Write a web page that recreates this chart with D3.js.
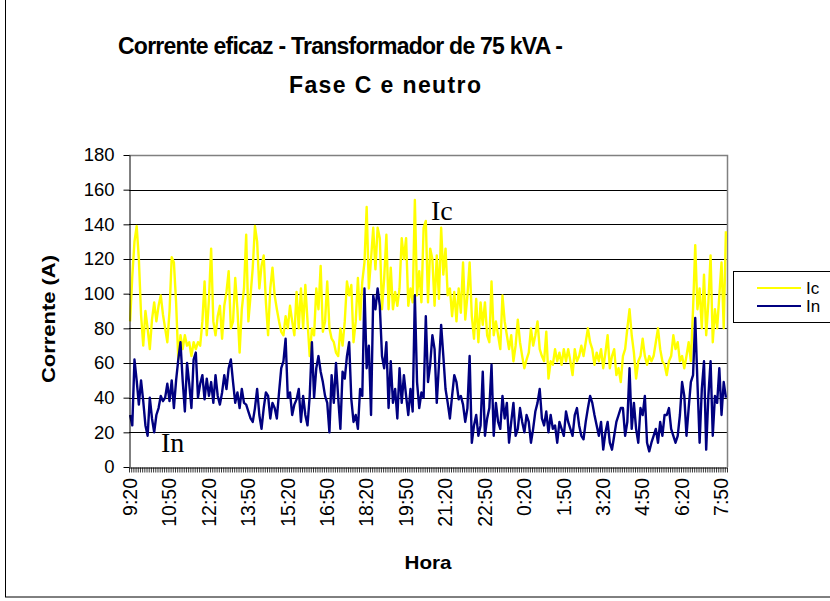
<!DOCTYPE html>
<html>
<head>
<meta charset="utf-8">
<script src="https://cdn.jsdelivr.net/npm/d3@7"></script>
<style>
  body { margin: 0; background: #fff; }
  svg { display: block; font-family: "Liberation Sans", Arial, sans-serif; }
</style>
</head>
<body>
<svg id="chart" width="830" height="601"></svg>
<script>
// Phase C current (A), one reading every 5 minutes from 9:20
const icValues = [
  84, 110, 130, 139, 120, 88, 70, 90, 80, 68, 85, 95, 84, 93, 99, 88, 80, 72, 90, 121,
  118, 95, 62, 76, 68, 76, 70, 72, 64, 72,
  68, 72, 70, 84, 107, 76, 97, 126, 84, 76, 87, 93, 74, 93, 101, 113, 80, 84, 109, 91,
  66, 91, 103, 134, 84, 99, 115, 139, 130, 103, 116, 122, 95, 76, 103, 115,
  99, 91, 84, 78, 76, 87, 80, 93, 84, 76, 101, 80, 103, 80, 105, 84, 64, 80, 76, 103,
  91, 116, 78, 84, 107, 80, 74, 72, 66, 64, 80, 70, 84, 107, 99,
  105, 72, 84, 109, 85, 107, 118, 150, 103, 120, 138, 114, 138, 132, 91, 109, 134, 91, 115, 91,
  101, 93, 103, 132, 120, 132, 93, 103, 95, 154, 99, 113, 95, 138,
  142, 95, 126, 120, 93, 122, 97, 138, 111, 126, 99, 103, 87, 101, 84, 103, 89, 118, 85, 99,
  118, 87, 74, 97, 72, 95, 82, 95, 76, 72, 107, 76, 84, 76,
  68, 99, 84, 76, 68, 76, 61, 70, 85, 72, 64, 57, 62, 66, 80, 70, 76, 84, 68, 64,
  61, 78, 51, 61, 59, 68, 61, 66, 59, 68, 61, 68, 61, 53, 68,
  61, 64, 70, 64, 72, 80, 72, 68, 59, 66, 61, 68, 57, 66, 76, 57, 64, 68, 53, 57,
  49, 64, 68, 80, 91, 76, 66, 51, 61, 64, 74, 64, 59, 64,
  61, 64, 72, 80, 68, 61, 59, 53, 61, 64, 76, 68, 72, 61, 64, 57, 64, 72, 61, 91,
  128, 91, 103, 80, 111, 76, 95, 122, 72, 91, 80, 99, 118, 80, 136
];

// Neutral current (A), same timestamps
const inValues = [
  30, 24, 62, 50, 36, 50, 38, 24, 18, 40, 28, 20, 30, 34, 41, 38, 40, 48, 38, 50,
  34, 50, 62, 72, 50, 32, 60, 48, 34, 62,
  66, 40, 48, 53, 39, 51, 41, 49, 37, 53, 41, 36, 43, 53, 45, 57, 62, 49, 37, 43,
  34, 45, 37, 36, 32, 28, 26, 34, 45, 30, 22, 34, 43, 41, 28, 37,
  34, 28, 43, 57, 61, 74, 40, 43, 30, 36, 39, 45, 26, 41, 30, 24, 41, 72, 40, 57,
  64, 55, 49, 41, 37, 20, 53, 37, 60, 40, 22, 55, 51, 64, 72,
  39, 26, 30, 22, 45, 41, 103, 57, 70, 30, 99, 91, 103, 93, 64, 57, 72, 34, 61, 37,
  45, 28, 57, 37, 53, 41, 30, 45, 32, 99, 49, 34, 43, 40,
  87, 49, 59, 76, 68, 37, 59, 82, 64, 45, 37, 28, 41, 53, 49, 39, 41, 36, 26, 34,
  64, 14, 24, 30, 18, 24, 55, 18, 28, 34, 59, 18, 37, 26,
  22, 41, 28, 37, 14, 26, 37, 18, 22, 34, 26, 20, 30, 26, 14, 22, 32, 37, 45, 28,
  24, 32, 20, 30, 22, 24, 14, 26, 22, 18, 32, 26, 22, 18, 30,
  34, 24, 18, 16, 26, 34, 41, 37, 30, 24, 18, 26, 10, 20, 26, 14, 10, 18, 26, 30,
  34, 34, 18, 26, 57, 22, 37, 22, 14, 34, 30, 41, 14, 9,
  14, 18, 22, 14, 26, 18, 30, 30, 34, 22, 18, 14, 18, 30, 49, 41, 18, 34, 49, 53,
  86, 49, 14, 45, 61, 10, 41, 61, 18, 41, 37, 57, 30, 49, 40
];

const seriesNames = ["Ic", "In"];
const seriesColors = ["#ffff00", "#000080"];
const yTicks = [0, 20, 40, 60, 80, 100, 120, 140, 160, 180];
const tickLabels = ["9:20", "10:50", "12:20", "13:50", "15:20", "16:50", "18:20", "19:50",
  "21:20", "22:50", "0:20", "1:50", "3:20", "4:50", "6:20", "7:50"];
const startMinutes = 9 * 60 + 20;
const stepMinutes = 5;

// Category labels h:mm for each reading
const categories = icValues.map((_, i) => {
  const m = (startMinutes + i * stepMinutes) % 1440;
  return Math.floor(m / 60) + ":" + String(m % 60).padStart(2, "0");
});

const svg = d3.select("#chart");
const plot = { left: 129, right: 727, top: 155, bottom: 467 };

const x = d3.scaleBand().domain(categories).range([plot.left, plot.right]);
const xc = c => x(c) + x.bandwidth() / 2;
const xTickScale = d3.scaleLinear().domain([0, categories.length]).range([plot.left, plot.right]);
const y = d3.scaleLinear().domain([0, 180]).range([plot.bottom, plot.top]);

// Chart frame
svg.append("rect")
  .attr("x", 5.5).attr("y", -2).attr("width", 830).attr("height", 599)
  .attr("fill", "#fff").attr("stroke", "#000").attr("stroke-width", 1);

// Title
const title = svg.append("text")
  .attr("font-weight", "bold").attr("font-size", 23).attr("fill", "#000");
title.append("tspan").attr("x", 118).attr("y", 54)
  .attr("textLength", 445).attr("lengthAdjust", "spacing")
  .text("Corrente eficaz - Transformador de 75 kVA -");
title.append("tspan").attr("x", 289).attr("y", 93)
  .attr("textLength", 192).attr("lengthAdjust", "spacing")
  .text("Fase C e neutro");

// Gridlines
svg.append("g")
  .selectAll("line")
  .data(yTicks.filter(v => v > 0 && v < 180))
  .join("line")
  .attr("x1", plot.left).attr("x2", plot.right)
  .attr("y1", d => Math.round(y(d)) + 0.5).attr("y2", d => Math.round(y(d)) + 0.5)
  .attr("stroke", "#000").attr("stroke-width", 1);

// Plot-area border (top and right)
svg.append("path")
  .attr("d", `M${plot.left},${plot.top + 0.5}H${plot.right + 0.5}V${plot.bottom}`)
  .attr("fill", "none").attr("stroke", "#808080").attr("stroke-width", 1.5);

// Series lines
const line = d3.line().x((d, i) => xc(categories[i])).y(d => y(d));
[icValues, inValues].forEach((vals, k) => {
  svg.append("path")
    .datum(vals)
    .attr("d", line)
    .attr("fill", "none")
    .attr("stroke", seriesColors[k])
    .attr("stroke-width", 2.4)
    .attr("stroke-linejoin", "round");
});

// Y axis
const yAxis = svg.append("g")
  .attr("transform", `translate(${plot.left + 0.5},0)`)
  .call(d3.axisLeft(y).tickValues(yTicks).tickSize(6).tickPadding(9).tickSizeOuter(0));
yAxis.select(".domain").attr("stroke", "#000");
yAxis.selectAll(".tick line").attr("stroke", "#000");
yAxis.selectAll(".tick text").attr("font-size", 18.5).attr("font-family", "Liberation Sans, Arial, sans-serif").attr("fill", "#000");

// X axis: one tick per category boundary
const xAxis = svg.append("g")
  .attr("transform", `translate(0,${plot.bottom + 0.5})`)
  .call(d3.axisBottom(xTickScale).tickValues(d3.range(categories.length + 1)).tickSize(5).tickFormat("").tickSizeOuter(0));
xAxis.select(".domain").attr("stroke", "#000");
xAxis.selectAll(".tick line").attr("stroke", "#000").attr("stroke-width", 0.8);

// X tick labels (rotated)
svg.append("g")
  .selectAll("text")
  .data(tickLabels)
  .join("text")
  .attr("transform", d => `translate(${xc(d)},478) rotate(-90)`)
  .attr("text-anchor", "end")
  .attr("dy", "0.35em")
  .attr("font-size", 19.5)
  .attr("fill", "#000")
  .text(d => d);

// Axis titles
svg.append("text")
  .attr("transform", "translate(55,319) rotate(-90)")
  .attr("text-anchor", "middle")
  .attr("font-weight", "bold").attr("font-size", 19)
  .attr("textLength", 128).attr("lengthAdjust", "spacingAndGlyphs")
  .text("Corrente (A)");
svg.append("text")
  .attr("x", 428).attr("y", 569)
  .attr("text-anchor", "middle")
  .attr("font-weight", "bold").attr("font-size", 19)
  .attr("textLength", 47).attr("lengthAdjust", "spacingAndGlyphs")
  .text("Hora");

// In-plot series annotations
svg.append("text")
  .attr("x", 431).attr("y", 220)
  .attr("font-family", "Liberation Serif, Times New Roman, serif")
  .attr("font-size", 28)
  .text(seriesNames[0]);
svg.append("text")
  .attr("x", 161).attr("y", 452)
  .attr("font-family", "Liberation Serif, Times New Roman, serif")
  .attr("font-size", 28)
  .text(seriesNames[1]);

// Legend
const legend = svg.append("g");
legend.append("rect")
  .attr("x", 733.5).attr("y", 271.5).attr("width", 110).attr("height", 51)
  .attr("fill", "#fff").attr("stroke", "#000");
seriesNames.forEach((name, k) => {
  const ly = 288 + k * 18;
  legend.append("line")
    .attr("x1", 757).attr("x2", 801).attr("y1", ly).attr("y2", ly)
    .attr("stroke", seriesColors[k]).attr("stroke-width", 2);
  legend.append("text")
    .attr("x", 806).attr("y", ly).attr("dy", "0.35em")
    .attr("font-size", 17)
    .text(name);
});
</script>
</body>
</html>
